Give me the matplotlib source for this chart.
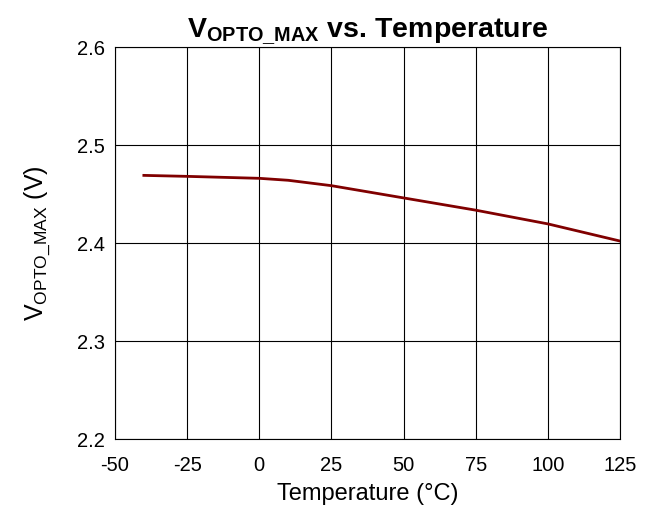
import matplotlib
matplotlib.use("Agg")
import matplotlib.pyplot as plt
import numpy as np

temps = [-40, -25, 0, 10, 25, 50, 75, 100, 125]
vopto = [2.469, 2.468, 2.466, 2.464, 2.4585, 2.446, 2.4335, 2.4195, 2.402]
xticks = [-50, -25, 0, 25, 50, 75, 100, 125]
yticks = [2.2, 2.3, 2.4, 2.5, 2.6]

plt.rcParams['font.family'] = ['Liberation Sans', 'DejaVu Sans']
plt.rcParams['mathtext.fontset'] = 'custom'
plt.rcParams['mathtext.rm'] = 'Liberation Sans'
plt.rcParams['mathtext.it'] = 'Liberation Sans:italic'
plt.rcParams['mathtext.bf'] = 'Liberation Sans:bold'

fig = plt.figure(figsize=(6.54, 5.15), dpi=100)
ax = fig.add_axes([115/654, 1-439/515, 505/654, 392/515])

ax.plot(temps, vopto, color='#800000', lw=2.0)
ax.set_xlim(-50, 125)
ax.set_ylim(2.2, 2.6)
ax.set_xticks(xticks)
ax.set_xticklabels([str(t) for t in xticks])
ax.set_yticks(yticks)
ax.set_yticklabels([f"{v:.1f}" for v in yticks])
ax.grid(True, color='black', lw=0.8)
ax.tick_params(length=0, labelsize=14.5)
ax.tick_params(axis='x', pad=12)
ax.tick_params(axis='y', pad=7)
for s in ax.spines.values():
    s.set_color('black')
    s.set_linewidth(0.8)

ax.set_xlabel('Temperature (°C)', fontsize=17, labelpad=6)
ax.set_ylabel(r'V$_\mathrm{OPTO\_MAX}$ (V)', fontsize=18, labelpad=18)
ax.set_title(r'V$_\mathbf{OPTO\_MAX}$ vs. Temperature', fontsize=20.5, fontweight='bold', pad=7)

fig.savefig('out.png', dpi=100)
